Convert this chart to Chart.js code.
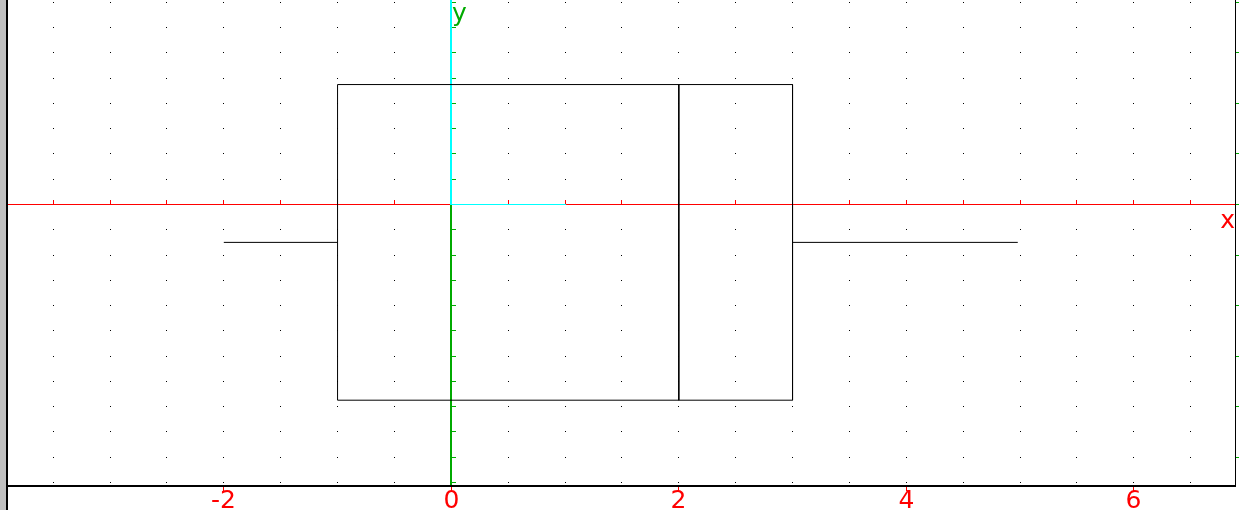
<!DOCTYPE html>
<html>
<head>
<meta charset="utf-8">
<script src="https://cdn.jsdelivr.net/npm/chart.js@4.4.1/dist/chart.umd.min.js"></script>
<style>
html,body{margin:0;padding:0;background:#fff;overflow:hidden;}
canvas{display:block;}
</style>
</head>
<body>
<canvas id="c" width="1239" height="510"></canvas>
<script>
// Box-and-whisker summary: min, Q1, median, Q3, max
const boxStats = [-2, -1, 2, 3, 4.98];
// vertical placement of the box (top, whisker level, bottom) in y units
const boxLevels = [0.475, -0.15, -0.775];
// axis ranges
const xRange = [-3.9147, 6.8897];
const yRange = [-1.11485, 0.8099];
// tick / grid steps
const xDotStep = [0.5];
const yDotStep = [0.1];
const xTickLabels = ['-2', '0', '2', '4', '6'];
const xTickValues = [-2, 0, 2, 4, 6];
const axisNames = ['x', 'y'];

const [bMin, bQ1, bMed, bQ3, bMax] = boxStats;
const [yTop, yMid, yBot] = boxLevels;

const GREEN = 'rgb(0,170,0)';
const RED = '#ff0000';
const CYAN = '#00ffff';
const FONT = '25px "DejaVu Sans"';

const drawPlugin = {
  id: 'xcasAxes',
  beforeDraw(chart) {
    const ctx = chart.ctx;
    ctx.save();
    ctx.fillStyle = '#ffffff';
    ctx.fillRect(0, 0, chart.width, chart.height);
    ctx.fillStyle = '#c0c0c0';
    ctx.fillRect(0, 0, 6, chart.height);
    ctx.restore();
  },
  beforeDatasetsDraw(chart) {
    const ctx = chart.ctx;
    const xs = chart.scales.x, ys = chart.scales.y;
    const a = chart.chartArea;
    ctx.save();
    // dot grid
    ctx.fillStyle = '#000';
    const dx = xDotStep[0], dy = yDotStep[0];
    for (let i = Math.ceil(xRange[0] / dx); i * dx <= xRange[1]; i++) {
      const px = Math.floor(xs.getPixelForValue(i * dx));
      for (let j = Math.ceil(yRange[0] / dy); j * dy <= yRange[1]; j++) {
        const py = Math.floor(ys.getPixelForValue(j * dy));
        ctx.fillRect(px, py, 1, 1);
      }
    }
    const x0 = Math.floor(xs.getPixelForValue(0));
    const y0 = Math.floor(ys.getPixelForValue(0));
    const x1 = Math.floor(xs.getPixelForValue(1));
    // x axis (red) with ticks every 0.5
    ctx.fillStyle = RED;
    ctx.fillRect(a.left, y0, a.right - a.left, 1);
    for (let i = Math.ceil(xRange[0] / dx); i * dx <= xRange[1]; i++) {
      const px = Math.floor(xs.getPixelForValue(i * dx));
      ctx.fillRect(px, y0 - 4, 1, 4);
    }
    // y axis (green) with ticks every 0.1
    ctx.fillStyle = GREEN;
    ctx.fillRect(x0 - 1, y0, 2, a.bottom - y0);
    for (let j = Math.ceil(yRange[0] / dy); j * dy <= yRange[1]; j++) {
      const py = Math.floor(ys.getPixelForValue(j * dy));
      ctx.fillRect(x0, py, 5, 1);
    }
    // unit vectors (cyan)
    ctx.fillStyle = CYAN;
    ctx.fillRect(x0 - 1, a.top, 2, y0 - a.top + 1);
    ctx.fillRect(x0 + 1, y0, x1 - x0, 1);
    ctx.restore();
  },
  afterDatasetsDraw(chart) {
    const ctx = chart.ctx;
    const xs = chart.scales.x, ys = chart.scales.y;
    const a = chart.chartArea;
    ctx.save();
    // frame
    ctx.fillStyle = '#000';
    ctx.fillRect(6, 0, 2, chart.height);
    ctx.fillRect(6, 485, a.right - 6 + 1, 2);
    ctx.fillRect(a.right, 0, 1, 487);
    // right-side green ticks every 0.2
    ctx.fillStyle = GREEN;
    const dy = yDotStep[0] * 2;
    for (let j = Math.ceil(yRange[0] / dy); j * dy <= yRange[1]; j++) {
      const py = Math.floor(ys.getPixelForValue(j * dy));
      ctx.fillRect(a.right + 1, py, 3, 1);
    }
    // bottom labels
    ctx.fillStyle = RED;
    ctx.font = FONT;
    ctx.textAlign = 'center';
    ctx.textBaseline = 'alphabetic';
    xTickValues.forEach((v, i) => {
      const px = Math.floor(xs.getPixelForValue(v));
      ctx.fillRect(px, 487, 1, 4);
      ctx.fillText(xTickLabels[i], px + 0.5, 508);
    });
    // axis names
    ctx.textAlign = 'right';
    ctx.fillText(axisNames[0], a.right, 228);
    ctx.fillStyle = GREEN;
    ctx.textAlign = 'left';
    const x0 = Math.floor(xs.getPixelForValue(0));
    ctx.fillText(axisNames[1], x0 + 1, 21);
    ctx.restore();
  }
};

const lineDs = (data) => ({
  data, showLine: true, borderColor: '#000', borderWidth: 1,
  pointRadius: 0, fill: false, tension: 0
});

new Chart(document.getElementById('c'), {
  type: 'scatter',
  data: {
    datasets: [
      lineDs([{x: bQ1, y: yTop}, {x: bQ3, y: yTop}, {x: bQ3, y: yBot}, {x: bQ1, y: yBot}, {x: bQ1, y: yTop}]),
      lineDs([{x: bMed, y: yTop}, {x: bMed, y: yBot}]),
      lineDs([{x: bMin, y: yMid}, {x: bQ1, y: yMid}]),
      lineDs([{x: bQ3, y: yMid}, {x: bMax, y: yMid}])
    ]
  },
  options: {
    responsive: false,
    animation: false,
    devicePixelRatio: 1,
    layout: {padding: {left: 6, right: 4, top: 0, bottom: 24}},
    plugins: {legend: {display: false}, tooltip: {enabled: false}},
    scales: {
      x: {type: 'linear', display: false, min: xRange[0], max: xRange[1]},
      y: {type: 'linear', display: false, min: yRange[0], max: yRange[1]}
    }
  },
  plugins: [drawPlugin]
});
</script>
</body>
</html>
